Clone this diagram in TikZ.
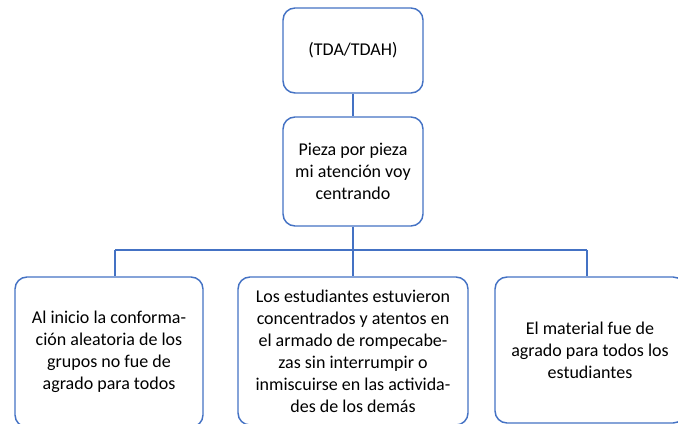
\documentclass[tikz,border=0pt]{standalone}
\usepackage{fontspec}
\setmainfont{Carlito}
\definecolor{boxblue}{HTML}{4472C4}
\begin{document}
\begin{tikzpicture}[x=0.75pt,y=-0.75pt,
  box/.style={draw=boxblue,line width=1.1pt,rounded corners=9pt,fill=white,
    align=center,inner sep=0pt,font=\fontsize{13.5pt}{16.5pt}\selectfont},
  conn/.style={draw=boxblue,line width=1.1pt}]
\useasboundingbox (0,0) rectangle (678,424);
\clip (0,0) rectangle (678,424);
\node[box,minimum width=105pt,minimum height=63.75pt] (b1) at (353,50.5) {(TDA/TDAH)};
\node[box,minimum width=105pt,minimum height=81.75pt] (b2) at (353,171.5) {Pieza por pieza\\mi atención voy\\centrando};
\node[box,minimum width=141pt,minimum height=112.5pt] (b3) at (109,352) {Al inicio la conforma-\\ción aleatoria de los\\grupos no fue de\\agrado para todos};
\node[box,minimum width=172.5pt,minimum height=111pt] (b4) at (353,351) {Los estudiantes estuvieron\\concentrados y atentos en\\el armado de rompecabe-\\zas sin interrumpir o\\inmiscuirse en las activida-\\des de los demás};
\node[box,minimum width=142.5pt,minimum height=109.5pt] (b5) at (590,350) {El material fue de\\agrado para todos los\\estudiantes};
\coordinate (j3) at (115,250);
\coordinate (j5) at (587,250);
\draw[conn] (b1.south) -- (b2.north);
\draw[conn] (b2.south) -- (b2.south |- j3);
\draw[conn] (j3) -- (j5);
\draw[conn] (j3) -- (j3 |- b3.north);
\draw[conn] (b4.north |- j3) -- (b4.north);
\draw[conn] (j5) -- (j5 |- b5.north);
\end{tikzpicture}
\end{document}
